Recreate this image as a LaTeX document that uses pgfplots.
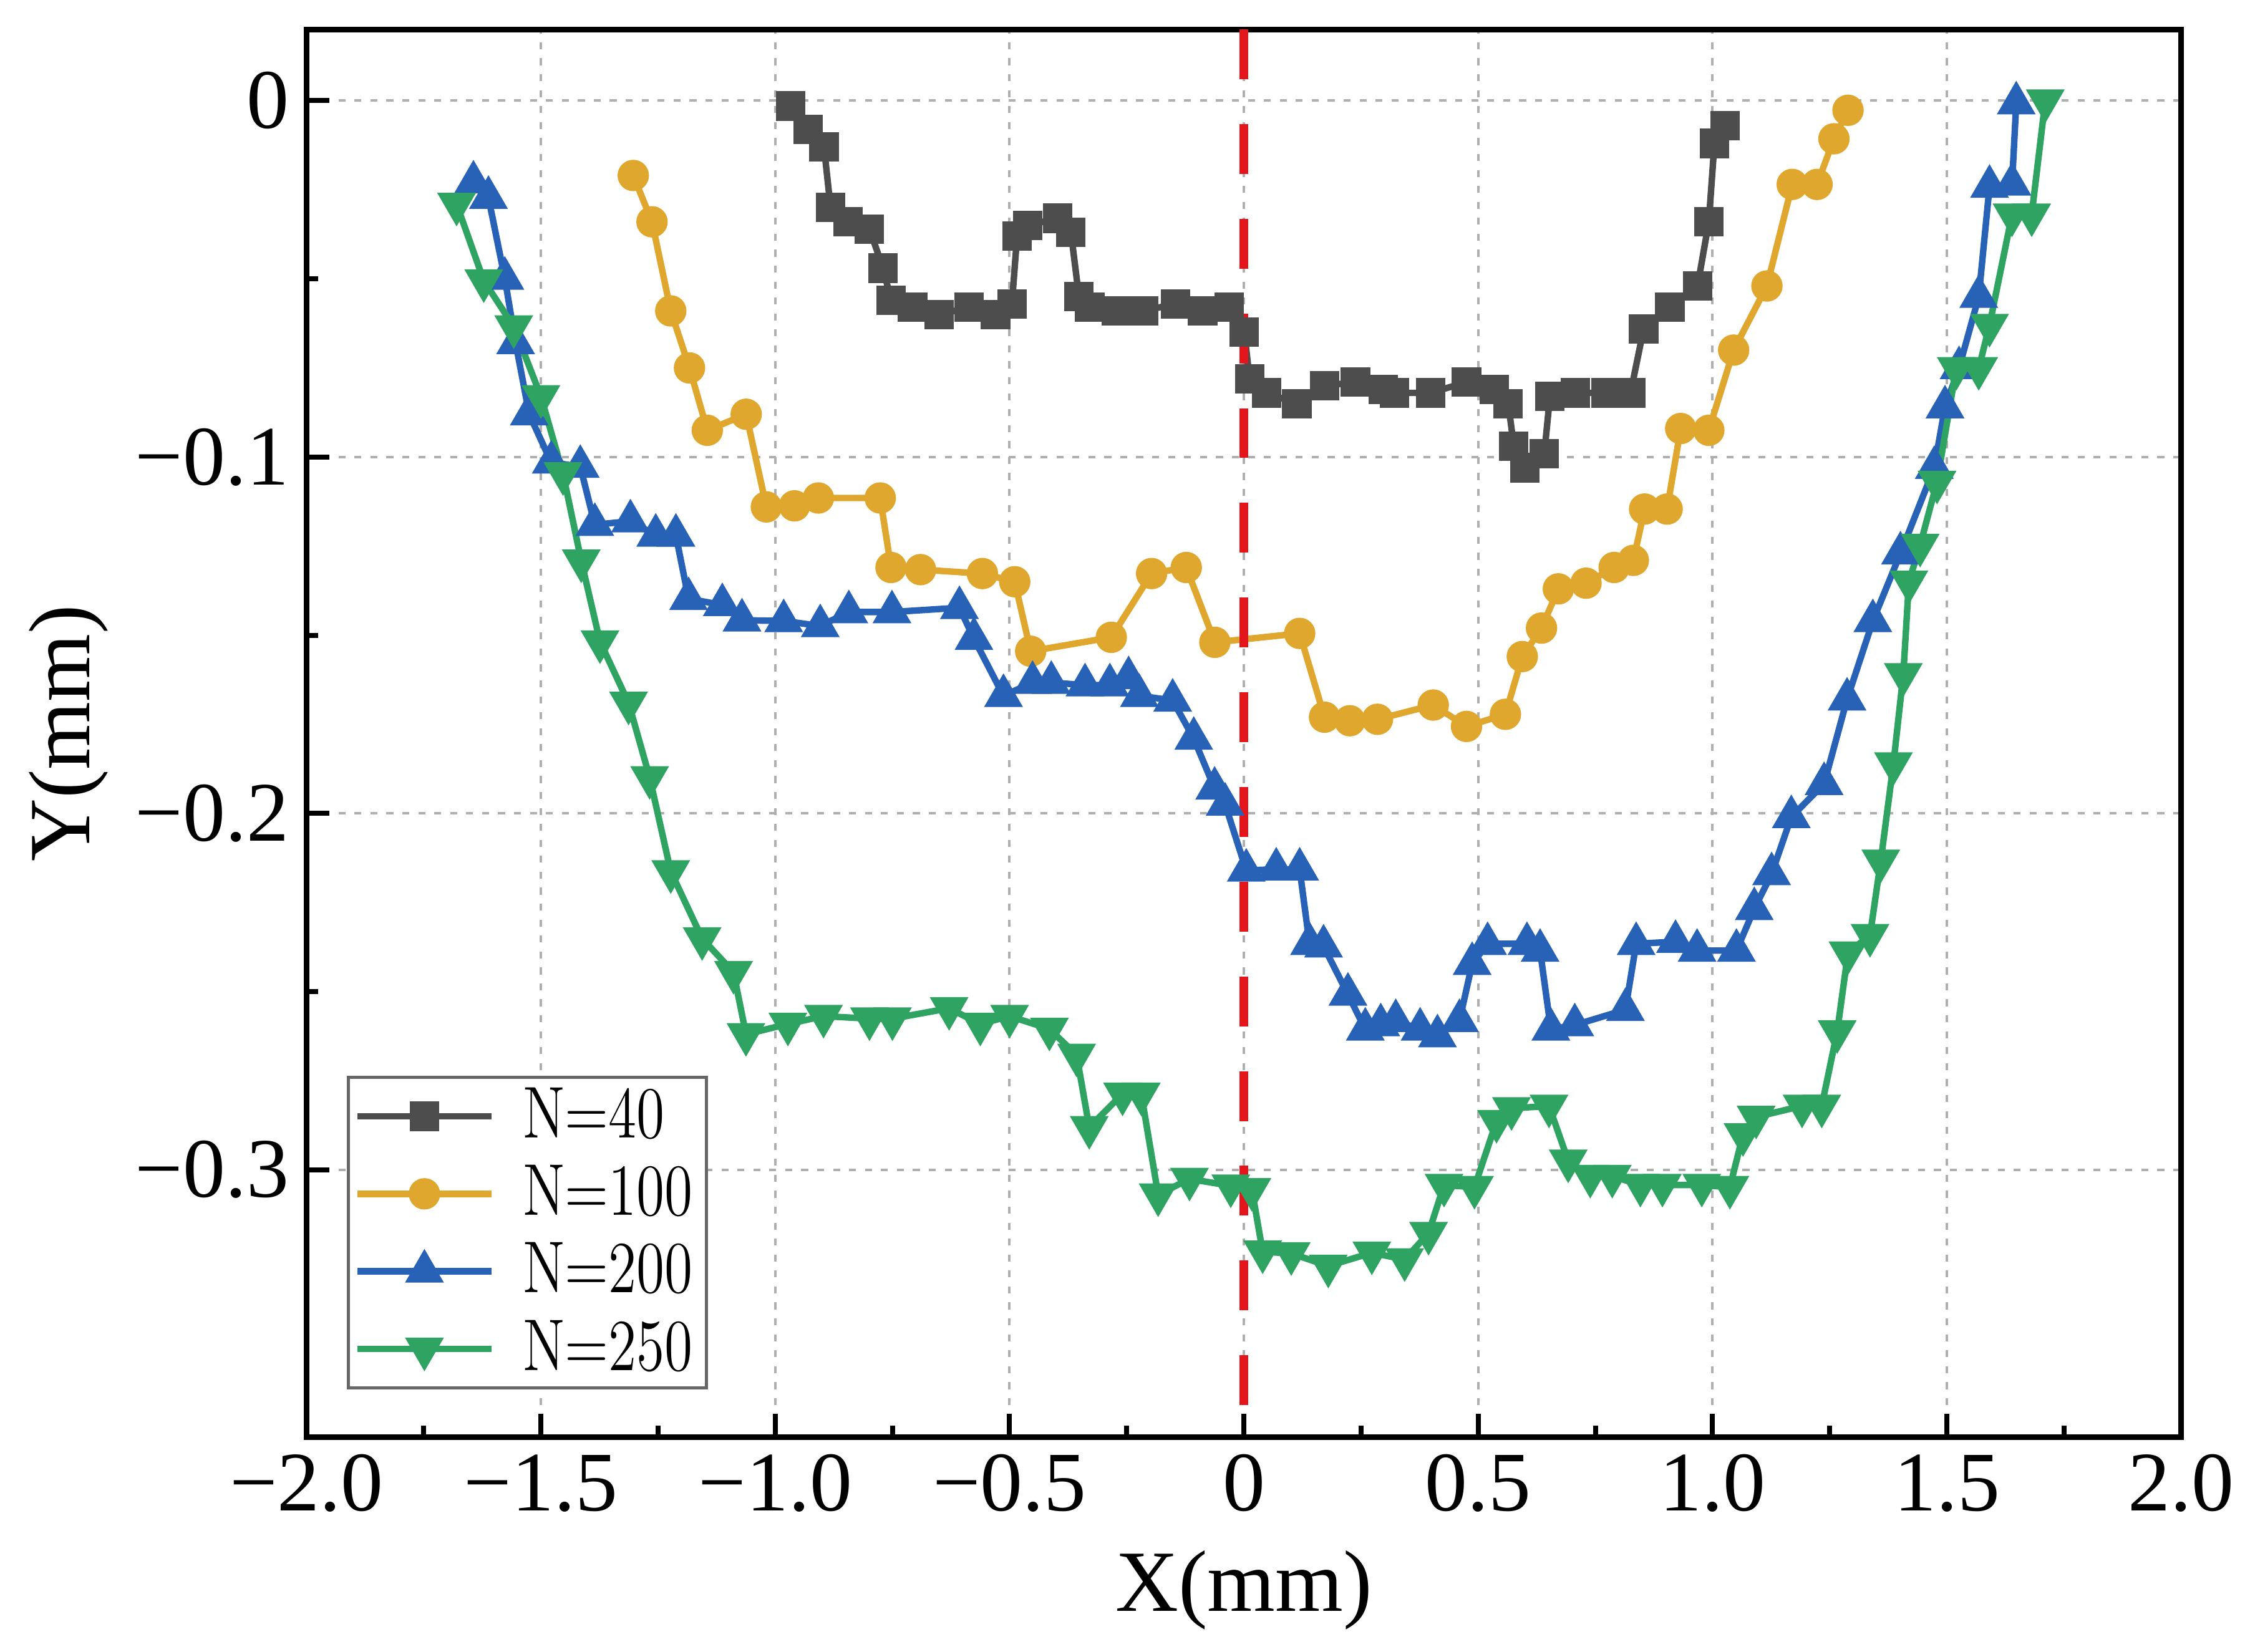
\documentclass[border=0pt]{standalone}
\usepackage{pgfplots}
\pgfplotsset{compat=1.18}
\usepackage{fontspec}
\newfontfamily\tnr{Liberation Serif}
\definecolor{cgray}{RGB}{77,77,77}
\definecolor{cgold}{RGB}{224,167,46}
\definecolor{cblue}{RGB}{40,98,182}
\definecolor{cgreen}{RGB}{46,163,98}
\definecolor{cred}{RGB}{228,22,28}
\definecolor{cgrid}{RGB}{175,175,175}
\newcommand{\lt}[1]{\scalebox{1}[1.28]{#1}}
\begin{document}
\begin{tikzpicture}
\begin{axis}[
 scale only axis, width=376pt, height=282.4pt,
 xmin=-2, xmax=2, ymin=-0.375, ymax=0.02,
 xtick={-2,-1.5,-1,-0.5,0,0.5,1,1.5,2},
 xticklabels={−2.0,−1.5,−1.0,−0.5,0,0.5,1.0,1.5,2.0},
 ytick={-0.3,-0.2,-0.1,0},
 yticklabels={−0.3,−0.2,−0.1,0},
 minor x tick num=1, minor y tick num=1,
 tick align=inside, xtick pos=bottom, ytick pos=left,
 major tick length=4.6pt, minor tick length=2.3pt,
 every tick/.style={black, line width=1pt},
 axis line style={line width=1.1pt},
 grid=major,
 major grid style={cgrid, line width=0.5pt, dash pattern=on 1.4pt off 1.8pt},
 ticklabel style={font=\tnr\fontsize{17}{20}\selectfont},
 xlabel={X(mm)}, ylabel={Y(mm)},
 label style={font=\tnr\fontsize{17.5}{21}\selectfont},
 xlabel style={at={(axis description cs:0.5,-0.1087)}, anchor=center},
 ylabel style={at={(axis description cs:-0.1269,0.5)}, anchor=center},
 legend style={at={(axis description cs:0.0215,0.034)}, anchor=south west,
   draw=gray!80!black, line width=0.6pt, font=\fontsize{11.5}{14}\selectfont,
   inner xsep=1.2pt, inner ysep=0.5pt, row sep=1pt, column sep=4.2pt,
   nodes={inner sep=1.5pt}},
 legend cell align=left,
 legend image code/.code={\draw[mark repeat=2,mark phase=2] plot coordinates {(0pt,0pt) (13.4pt,0pt) (26.8pt,0pt)};},
]
\addplot[cgray, line width=1.3pt, mark=square*, mark size=2.8pt, mark options={solid, line width=0.3pt}] table {
-0.967 -0.0015
-0.930 -0.008
-0.896 -0.013
-0.882 -0.030
-0.845 -0.034
-0.799 -0.036
-0.770 -0.047
-0.753 -0.056
-0.707 -0.058
-0.650 -0.060
-0.587 -0.058
-0.530 -0.060
-0.495 -0.057
-0.484 -0.038
-0.461 -0.035
-0.398 -0.033
-0.369 -0.037
-0.352 -0.055
-0.329 -0.058
-0.272 -0.059
-0.214 -0.059
-0.146 -0.057
-0.088 -0.059
-0.031 -0.058
0.001 -0.065
0.012 -0.078
0.048 -0.082
0.113 -0.085
0.172 -0.080
0.238 -0.079
0.297 -0.081
0.321 -0.082
0.398 -0.082
0.475 -0.079
0.534 -0.081
0.564 -0.085
0.576 -0.097
0.600 -0.103
0.641 -0.099
0.653 -0.083
0.707 -0.082
0.772 -0.082
0.825 -0.082
0.853 -0.064
0.909 -0.058
0.968 -0.052
0.992 -0.034
1.004 -0.012
1.027 -0.007
};
\addlegendentry{\lt{N=40}}
\addplot[cgold, line width=1.3pt, mark=*, mark size=3pt, mark options={solid, line width=0.3pt}] table {
-1.303 -0.021
-1.263 -0.034
-1.223 -0.059
-1.183 -0.075
-1.145 -0.0925
-1.062 -0.088
-1.019 -0.114
-0.959 -0.1137
-0.908 -0.1115
-0.776 -0.1115
-0.753 -0.131
-0.690 -0.1316
-0.558 -0.1327
-0.489 -0.135
-0.455 -0.1545
-0.283 -0.1506
-0.197 -0.1327
-0.123 -0.131
-0.062 -0.152
0.119 -0.1495
0.172 -0.173
0.226 -0.174
0.285 -0.1736
0.404 -0.1696
0.475 -0.1756
0.558 -0.1722
0.594 -0.156
0.635 -0.148
0.671 -0.137
0.730 -0.1354
0.790 -0.131
0.831 -0.129
0.855 -0.1146
0.903 -0.1146
0.932 -0.092
0.992 -0.0925
1.045 -0.070
1.116 -0.052
1.170 -0.0235
1.223 -0.0235
1.259 -0.0107
1.289 -0.0027
};
\addlegendentry{\lt{N=100}}
\addplot[cblue, line width=1.3pt, mark=triangle*, mark size=4.2pt, mark options={solid, line width=0.3pt}] table {
-1.644 -0.0229
-1.612 -0.0272
-1.577 -0.0499
-1.554 -0.068
-1.525 -0.088
-1.478 -0.1015
-1.416 -0.1027
-1.385 -0.119
-1.309 -0.118
-1.255 -0.122
-1.212 -0.122
-1.185 -0.1398
-1.113 -0.1415
-1.071 -0.1458
-0.982 -0.146
-0.904 -0.1474
-0.843 -0.1435
-0.751 -0.1435
-0.607 -0.1423
-0.576 -0.151
-0.513 -0.167
-0.451 -0.1633
-0.411 -0.1633
-0.339 -0.164
-0.286 -0.164
-0.246 -0.162
-0.223 -0.167
-0.152 -0.1683
-0.107 -0.179
-0.0625 -0.193
-0.040 -0.1975
0.005 -0.216
0.069 -0.2157
0.119 -0.2157
0.140 -0.2366
0.170 -0.2373
0.222 -0.2508
0.259 -0.2606
0.292 -0.2594
0.324 -0.2582
0.376 -0.2606
0.413 -0.2625
0.460 -0.2582
0.487 -0.2422
0.520 -0.2366
0.604 -0.2366
0.632 -0.2385
0.655 -0.2606
0.706 -0.2594
0.814 -0.2551
0.837 -0.2366
0.921 -0.2360
0.967 -0.2385
1.051 -0.2385
1.089 -0.2268
1.126 -0.2170
1.168 -0.201
1.238 -0.1917
1.287 -0.168
1.342 -0.146
1.401 -0.127
1.473 -0.103
1.496 -0.086
1.526 -0.075
1.568 -0.055
1.591 -0.0241
1.639 -0.0235
1.648 -0.0007
};
\addlegendentry{\lt{N=200}}
\addplot[cgreen, line width=1.3pt, mark=triangle*, mark size=4.2pt, mark options={solid, line width=0.3pt, rotate=180}] table {
-1.680 -0.0290
-1.622 -0.0505
-1.558 -0.0634
-1.500 -0.0830
-1.453 -0.1046
-1.414 -0.1291
-1.374 -0.1518
-1.313 -0.1690
-1.268 -0.1899
-1.223 -0.2163
-1.156 -0.2351
-1.089 -0.2446
-1.0625 -0.2620
-0.973 -0.2591
-0.897 -0.2569
-0.799 -0.2576
-0.750 -0.2576
-0.629 -0.2547
-0.5625 -0.2591
-0.500 -0.2569
-0.415 -0.2605
-0.357 -0.2678
-0.330 -0.2881
-0.259 -0.2787
-0.219 -0.2787
-0.183 -0.3070
-0.116 -0.3026
-0.028 -0.3045
0.017 -0.3055
0.040 -0.3230
0.101 -0.3235
0.180 -0.3270
0.273 -0.3233
0.343 -0.3252
0.394 -0.3178
0.427 -0.3043
0.492 -0.3049
0.539 -0.2864
0.571 -0.2828
0.651 -0.2821
0.692 -0.2975
0.739 -0.3018
0.786 -0.3018
0.846 -0.3043
0.893 -0.3043
0.977 -0.3043
1.037 -0.3049
1.065 -0.2901
1.093 -0.2852
1.191 -0.2821
1.233 -0.2821
1.266 -0.2612
1.289 -0.2391
1.336 -0.2342
1.359 -0.2133
1.386 -0.1860
1.407 -0.161
1.419 -0.135
1.443 -0.1247
1.479 -0.107
1.520 -0.0751
1.568 -0.0751
1.591 -0.063
1.639 -0.032
1.681 -0.032
1.710 0.000
};
\addlegendentry{\lt{N=250}}
\addplot[cred, line width=1.7pt, dash pattern=on 10pt off 9pt, forget plot] coordinates {(0,0.02) (0,-0.375)};
\end{axis}
\pgfresetboundingbox
\path ([xshift=-61.5pt,yshift=-43.1pt]current axis.south west) rectangle ([xshift=13.8pt,yshift=5.9pt]current axis.north east);
\end{tikzpicture}
\end{document}
